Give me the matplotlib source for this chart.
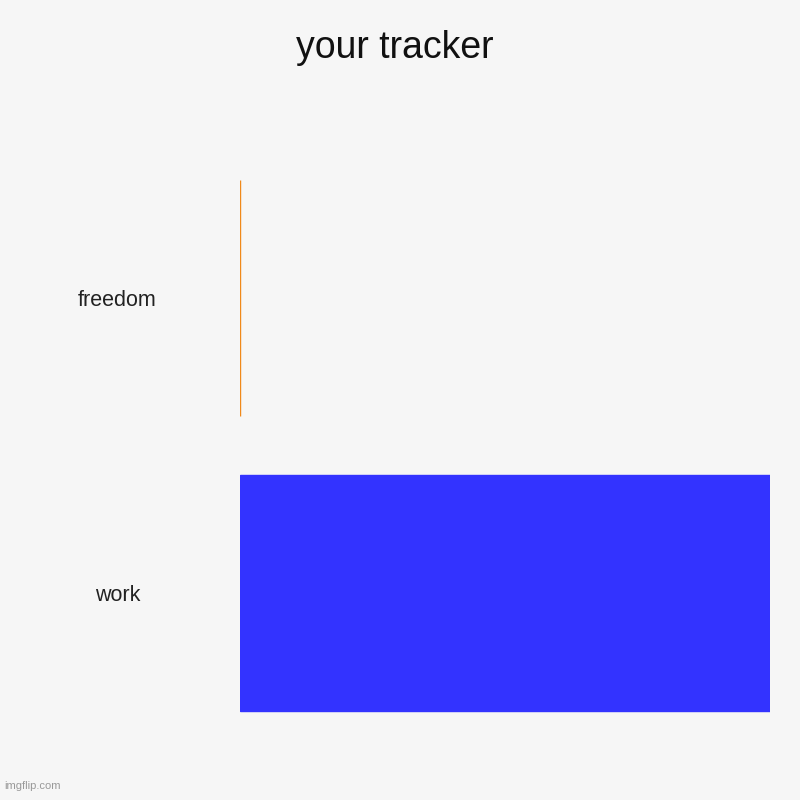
import matplotlib.pyplot as plt

categories = ['freedom', 'work']
values = [0, 100]
colors = ['#f0891a', '#3333ff']

plt.rcParams['font.family'] = ['Liberation Sans', 'DejaVu Sans']

fig = plt.figure(figsize=(8, 8), dpi=100, facecolor='#f6f6f6')
ax = fig.add_axes([0.2995, 0.074, 0.663, 0.7385])
ax.set_facecolor('#f6f6f6')

pos = list(range(len(categories)))
ax.barh(pos, values, height=0.8, color=colors, edgecolor=colors, linewidth=1)
ax.set_ylim(1.5, -0.5)
ax.set_xlim(0, 100)

ax.set_yticks(pos)
ax.set_yticklabels(categories, fontsize=15.5, color='#222222')
for lbl in ax.get_yticklabels():
    lbl.set_horizontalalignment('center')
ax.tick_params(axis='y', length=0, pad=88)
ax.set_xticks([])
for s in ax.spines.values():
    s.set_visible(False)

fig.text(0.494, 0.94, 'your tracker', ha='center', va='center', fontsize=27, color='#111111')
fig.text(0.005, 0.011, 'imgflip.com', ha='left', va='bottom', fontsize=8, color='#999999')

fig.savefig('out.png', dpi=100, facecolor=fig.get_facecolor())
